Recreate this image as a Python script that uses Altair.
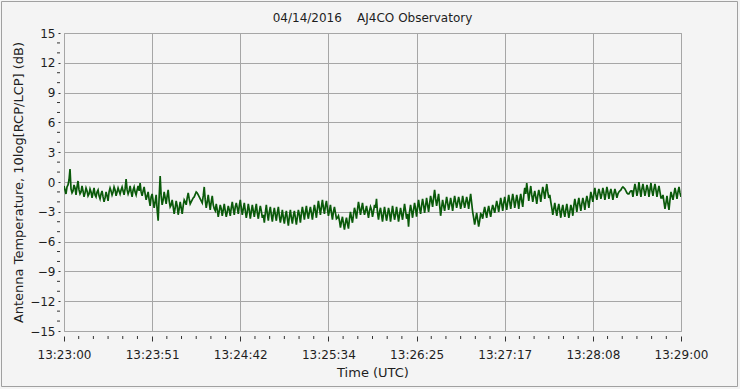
import altair as alt
import pandas as pd

# Antenna temperature ratio (dB) at even pixel columns (13:23:00 -> 13:29:00)
db_even = [
    -0.4, -1.2, -0.3, 1.3, -1.1, -0.3, -1.3, 0.1, -1.2, -0.4,
    -1.5, -0.6, -1.4, -0.7, -1.6, -0.6, -1.5, -0.8, -1.7, -0.9,
    -2.0, -1.0, -1.9, -0.6, -1.3, -0.5, -1.4, -0.6, -1.2, -0.5,
    -1.3, 0.3, -1.2, -0.4, -1.5, -0.5, -1.3, -0.4, -0.1, -1.4,
    -0.5, -1.8, -1.0, -2.4, -1.2, -2.6, -1.3, -3.9, 0.6, -2.3,
    -1.0, -2.2, -0.8, -2.5, -1.8, -3.2, -1.9, -3.3, -2.0, -3.2,
    -1.8, -2.3, -1.1, -2.2, -1.8, -1.5, -1.0, -1.3, -1.7, -2.1,
    -0.5, -2.6, -1.3, -2.8, -1.4, -2.7, -2.2, -3.5, -2.3, -3.4,
    -2.2, -3.5, -2.4, -3.4, -2.0, -3.3, -2.1, -3.2, -1.8, -3.3,
    -2.1, -3.6, -2.2, -3.7, -2.3, -3.5, -2.2, -3.7, -2.4, -3.6,
    -4.1, -2.3, -3.9, -2.5, -4.0, -2.6, -3.9, -2.5, -4.1, -2.8,
    -4.2, -2.9, -4.4, -2.8, -4.2, -2.9, -4.3, -2.8, -4.1, -2.5,
    -3.8, -2.4, -3.7, -2.5, -3.8, -2.3, -3.6, -1.9, -3.3, -1.8,
    -3.2, -1.9, -3.4, -2.3, -3.8, -2.5, -3.7, -3.4, -4.6, -3.5,
    -4.8, -3.6, -4.7, -3.0, -4.1, -2.6, -3.7, -2.0, -3.3, -2.1,
    -3.3, -2.4, -3.6, -2.5, -3.5, -2.3, -1.7, -3.8, -2.6, -4.0,
    -2.5, -3.9, -2.6, -4.0, -2.4, -3.8, -2.5, -4.0, -2.6, -3.8,
    -2.2, -3.7, -4.5, -2.3, -3.6, -2.1, -3.5, -1.8, -3.2, -1.7,
    -3.1, -1.6, -3.0, -1.4, -2.5, -0.8, -2.4, -1.2, -3.4, -1.8,
    -2.9, -1.5, -2.8, -1.6, -2.9, -1.4, -2.6, -1.5, -2.7, -1.4,
    -2.6, -1.5, -2.7, -1.2, -3.0, -4.3, -3.1, -4.5, -3.2, -3.7,
    -2.5, -3.6, -2.4, -3.5, -2.3, -3.1, -1.9, -3.0, -1.6, -2.9,
    -1.5, -2.8, -1.3, -2.7, -1.2, -2.6, -1.3, -2.7, -1.2, -2.5,
    -0.6, -0.1, -1.9, -0.4, -2.0, -0.9, -2.2, -0.8, -2.0, -0.5,
    -1.7, -0.2, -1.6, -2.0, -3.3, -2.1, -3.4, -2.2, -3.6, -2.3,
    -3.5, -2.2, -3.6, -2.3, -3.4, -1.7, -3.0, -1.6, -2.9, -1.6,
    -2.8, -1.4, -2.6, -1.0, -2.0, -0.6, -1.8, -0.7, -1.7, -0.6,
    -1.8, -0.5, -1.7, -0.7, -1.8, -0.7, -1.6, -1.0, -0.8, -0.5,
    -0.7, -1.1, -1.2, -0.9, -1.5, -0.2, -1.4, 0.0, -1.5, -0.2,
    -1.4, -0.3, -1.5, -0.1, -1.4, -0.2, -1.5, -0.4, -1.6, -1.3,
    -2.7, -1.4, -2.8, -1.0, -1.8, -0.6, -1.7, -0.5, -1.5,
]
# same trace, read at the odd pixel columns in between
db_odd = [
    -0.8, -0.5, 0.2, -0.7, -0.9, -0.6, -0.5, -0.8, -1.0, -0.9,
    -1.1, -0.9, -1.2, -1.0, -1.1, -1.3, -1.0, -1.4, -1.2, -1.5,
    -1.6, -1.4, -1.0, -0.9, -1.0, -0.8, -1.0, -0.9, -0.8, -0.9,
    -0.7, -0.8, -0.9, -1.0, -0.8, -1.0, -0.8, -0.9, -1.0, -0.9,
    -1.2, -1.4, -1.8, -1.5, -1.9, -2.0, -2.8, -1.5, -1.4, -1.8,
    -1.6, -1.4, -1.9, -2.3, -2.5, -2.6, -2.4, -2.7, -2.6, -2.4,
    -2.0, -1.6, -1.7, -2.0, -1.6, -1.25, -1.1, -1.5, -1.9, -1.4,
    -1.8, -2.0, -2.1, -2.0, -2.3, -2.9, -2.8, -2.9, -2.7, -2.8,
    -2.9, -3.0, -2.8, -2.6, -2.7, -2.5, -2.6, -2.4, -2.6, -2.7,
    -2.9, -3.0, -2.8, -3.0, -2.9, -2.8, -3.1, -3.0, -2.9, -3.3,
    -3.1, -3.2, -3.0, -3.3, -3.2, -3.3, -3.1, -3.4, -3.5, -3.6,
    -3.4, -3.7, -3.5, -3.6, -3.4, -3.6, -3.5, -3.3, -3.2, -3.1,
    -3.0, -3.2, -3.0, -3.1, -3.0, -2.9, -2.7, -2.6, -2.5, -2.6,
    -2.4, -2.7, -2.9, -3.1, -3.0, -3.1, -3.6, -3.9, -4.0, -4.2,
    -4.1, -4.2, -3.7, -3.6, -3.3, -3.0, -2.8, -2.6, -2.7, -2.8,
    -2.9, -3.0, -2.9, -2.8, -3.0, -2.6, -3.1, -3.0, -3.3, -3.2,
    -3.2, -3.3, -3.1, -3.2, -3.1, -3.3, -3.2, -3.3, -3.2, -3.0,
    -2.9, -3.2, -3.0, -2.9, -2.8, -2.7, -2.5, -2.6, -2.4, -2.3,
    -2.4, -2.3, -2.2, -1.9, -1.6, -1.7, -1.8, -2.3, -2.6, -2.4,
    -2.2, -2.1, -2.3, -2.2, -2.1, -2.0, -2.1, -2.0, -2.2, -2.0,
    -2.1, -2.0, -1.9, -2.1, -3.6, -3.7, -3.8, -3.9, -3.3, -3.0,
    -3.1, -2.9, -3.0, -2.8, -2.7, -2.5, -2.4, -2.3, -2.2, -2.1,
    -2.2, -2.0, -2.0, -1.9, -1.8, -2.0, -1.9, -1.8, -1.9, -1.4,
    -1.2, -1.0, -1.1, -1.3, -1.4, -1.5, -1.4, -1.3, -1.2, -1.0,
    -0.9, -1.0, -1.3, -2.6, -2.7, -2.8, -2.7, -2.9, -2.8, -3.0,
    -2.8, -2.9, -3.0, -2.7, -2.4, -2.3, -2.2, -2.3, -2.2, -2.1,
    -2.0, -1.9, -1.8, -1.5, -1.2, -1.3, -1.2, -1.1, -1.2, -1.1,
    -1.2, -1.0, -1.1, -1.2, -1.2, -1.1, -1.2, -0.9, -0.6, -0.6,
    -0.9, -1.2, -1.0, -0.9, -0.8, -0.7, -0.9, -0.8, -0.7, -0.8,
    -0.9, -0.7, -0.8, -0.9, -0.7, -0.8, -0.9, -1.0, -1.6, -2.0,
    -2.1, -2.2, -1.8, -1.4, -1.2, -1.1, -1.0, -1.1,
]
db = []
for i, v in enumerate(db_even):
    db.append(v)
    if i < len(db_odd):
        db.append(db_odd[i])
# seconds after 13:23:00 for each sample (evenly sampled over 6 minutes)
seconds = [i * 360.0 / (len(db) - 1) for i in range(len(db))]

x_major = [k * 360.0 / 7 for k in range(8)]
x_minor = [k * 360.0 / 42 for k in range(43) if k % 6 != 0]
y_major = list(range(-15, 16, 3))
y_minor = [v for v in range(-15, 16) if v % 3 != 0]

title_text = "04/14/2016\u00a0\u00a0\u00a0\u00a0AJ4CO Observatory"
x_title = "Time (UTC)"
y_title = "Antenna Temperature, 10log[RCP/LCP] (dB)"

FONT = "DejaVu Sans"
GRID = "#a6a6a6"
TXT = "#1e1e1e"
W, H = 617, 298

label_expr = ("'13:' + (23 + floor(datum.value / 60)) + ':' + "
              "(floor(datum.value % 60) < 10 ? '0' : '') + floor(datum.value % 60)")

x_scale = alt.Scale(domain=[0, 360], nice=False, zero=False)
y_scale = alt.Scale(domain=[-15, 15], nice=False, zero=False)

x_axis = alt.Axis(values=x_major, labelExpr=label_expr, title=x_title,
                  grid=True, gridColor=GRID, gridWidth=1, domain=False,
                  offset=5, tickSize=5, tickColor="#333333", labelPadding=8,
                  labelFont=FONT, labelFontSize=12, labelColor=TXT,
                  titleFont=FONT, titleFontSize=13, titleFontWeight="normal",
                  titleColor=TXT, titlePadding=6, labelFlush=False)
y_axis = alt.Axis(values=y_major, title=y_title,
                  grid=True, gridColor=GRID, gridWidth=1, domain=False,
                  offset=4, tickSize=2, tickColor="#333333", labelPadding=3,
                  labelFont=FONT, labelFontSize=12, labelColor=TXT,
                  titleFont=FONT, titleFontSize=13, titleFontWeight="normal",
                  titleColor=TXT, titlePadding=4)

df = pd.DataFrame({"t": seconds, "v": db})

line = alt.Chart(df).mark_line(color="#0a5a0a", strokeWidth=1.7, clip=True).encode(
    x=alt.X("t:Q", scale=x_scale, axis=x_axis),
    y=alt.Y("v:Q", scale=y_scale, axis=y_axis),
)

ymin = alt.Chart(pd.DataFrame({"v": y_minor})).mark_rule(color="#333333", strokeWidth=1).encode(
    y=alt.Y("v:Q", scale=y_scale, axis=y_axis),
    x=alt.value(-7), x2=alt.value(-4),
)

xmin = alt.Chart(pd.DataFrame({"t": x_minor})).mark_rule(color="#333333", strokeWidth=1).encode(
    x=alt.X("t:Q", scale=x_scale, axis=x_axis),
    y=alt.value(H + 5), y2=alt.value(H + 8),
)

title = alt.Chart(pd.DataFrame({"s": [title_text]})).mark_text(
    font=FONT, fontSize=12, color=TXT, align="center", baseline="middle"
).encode(text="s:N", x=alt.value(W / 2), y=alt.value(-15))

frame = alt.Chart(pd.DataFrame({"a": [0]})).mark_rect(
    filled=False, stroke="#a0a0a0", strokeWidth=1
).encode(
    x=alt.value(-62.5), x2=alt.value(673.5), y=alt.value(-31.5), y2=alt.value(353.5)
)

chart = alt.layer(line, ymin, xmin, title, frame).properties(
    width=W, height=H,
    autosize=alt.AutoSizeParams(type="none"),
    padding={"left": 64, "top": 33, "right": 59, "bottom": 58},
    background="#f4f4f4",
).configure_view(stroke=GRID, strokeWidth=1, fill="#f4f4f4")

chart.save("out.html", embed_options={"renderer": "svg", "actions": False})
